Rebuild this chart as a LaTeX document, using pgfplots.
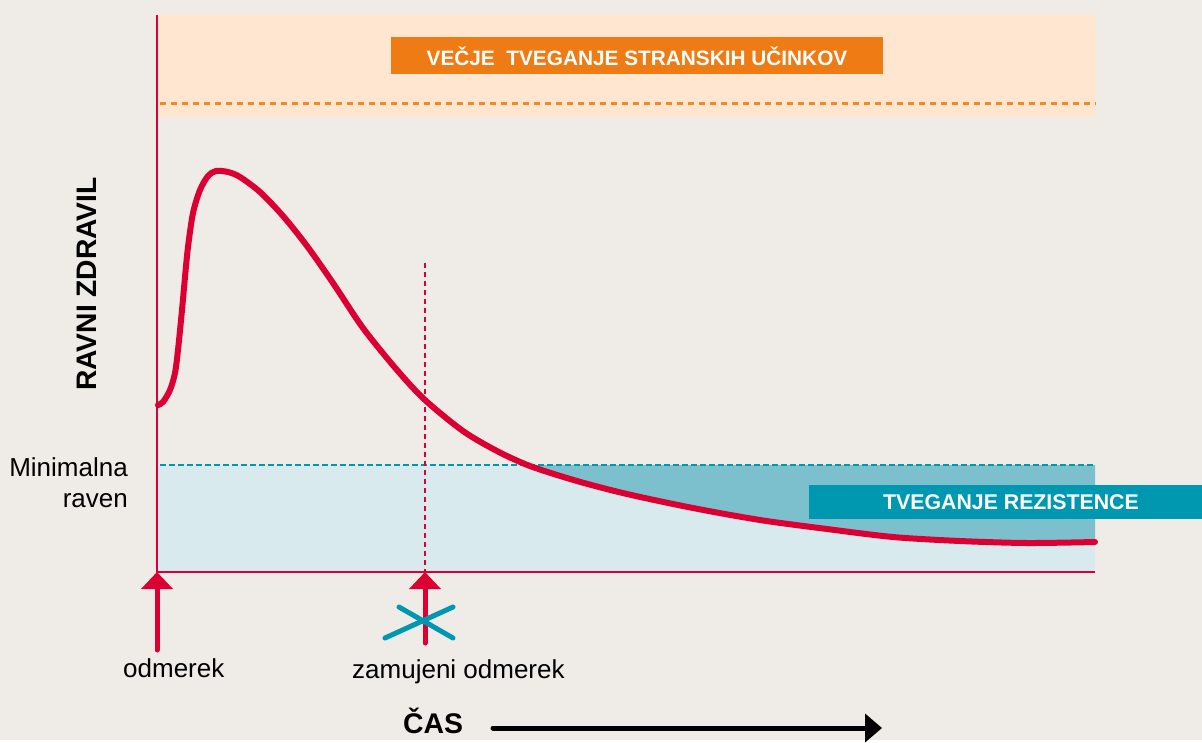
\documentclass[border=0pt]{standalone}
\usepackage{fontspec}
\setmainfont{Liberation Sans}
\usepackage{pgfplots}
\pgfplotsset{compat=1.18}
\usetikzlibrary{arrows.meta}
\definecolor{bg}{HTML}{EFECE7}
\definecolor{peach}{HTML}{FEE6D1}
\definecolor{orng}{HTML}{EE7B13}
\definecolor{dorng}{HTML}{F08A22}
\definecolor{lteal}{HTML}{D8EAEE}
\definecolor{mteal}{HTML}{7BC0CC}
\definecolor{dteal}{HTML}{0098B0}
\definecolor{rd}{HTML}{DC0032}
\begin{document}
\begin{tikzpicture}
\begin{axis}[
  scale only axis, width=1202pt, height=740pt,
  xmin=0, xmax=1202, ymin=0, ymax=740, y dir=reverse,
  hide axis, clip=false,
]
\fill[bg] (axis cs:0,0) rectangle (axis cs:1202,740);
% upper band
\fill[peach] (axis cs:157,15) rectangle (axis cs:1096,117);
\draw[dorng, line width=3pt, dash pattern=on 6pt off 5pt] (axis cs:160,103) -- (axis cs:1096,103);
\fill[orng] (axis cs:391,37) rectangle (axis cs:883,74);
\node[text=white, font=\fontsize{20.8pt}{24pt}\selectfont\bfseries, inner sep=0pt] at (axis cs:637,56) {VEČJE\ \ TVEGANJE STRANSKIH UČINKOV};
% lower band
\fill[lteal] (axis cs:157,465) rectangle (axis cs:1095,572);
\addplot[fill=mteal, draw=none] coordinates {
(527,465) (530,466) (577,481) (627,494) (693,508) (760,520) (827,529) (893,537) (960,541) (1027,543) (1095,542) (1095,465)};
\draw[dteal, line width=2.5pt, dash pattern=on 6pt off 3pt] (axis cs:160,465) -- (axis cs:1095,465);
\fill[dteal] (axis cs:809,485) rectangle (axis cs:1202,519);
\node[text=white, font=\fontsize{21.3pt}{24pt}\selectfont\bfseries, inner sep=0pt] at (axis cs:1011,502) {TVEGANJE REZISTENCE};
% missed-dose line
\draw[rd, line width=1.5pt, dash pattern=on 5pt off 4pt] (axis cs:425,263) -- (axis cs:425,572);
% axes
\draw[rd, line width=2.5pt] (axis cs:157,15) -- (axis cs:157,572) -- (axis cs:1095,572);
% concentration curve
\addplot[rd, line width=6pt, smooth, line cap=round, line join=round] coordinates {
(158,405) (163,402) (170,390) (175,373) (178,350) (182,310) (185,277) (188,247) (193,213) (200,190) (208,176) (216,171) (228,172) (240,177) (260,192) (283,216) (307,246) (333,283) (363,328) (397,370) (425,400) (463,431) (497,451) (530,466) (577,481) (627,494) (693,508) (760,520) (827,529) (893,537) (960,541) (1027,543) (1095,542)};
% dose arrows
\draw[rd, line width=5pt, line cap=round, -{Triangle[width=31pt,length=17pt]}] (axis cs:157,650) -- (axis cs:157,572);
\draw[rd, line width=5pt, line cap=round, -{Triangle[width=31pt,length=17pt]}] (axis cs:425,643) -- (axis cs:425,572);
\draw[dteal, line width=5pt, line cap=round] (axis cs:385,638) -- (axis cs:453,607);
\draw[dteal, line width=5pt, line cap=round] (axis cs:399,607) -- (axis cs:453,638);
% labels
\node[anchor=base east, inner sep=0pt, font=\fontsize{26pt}{31pt}\selectfont] at (axis cs:128,476) {Minimalna};
\node[anchor=base east, inner sep=0pt, font=\fontsize{26pt}{31pt}\selectfont] at (axis cs:128,507) {raven};
\node[anchor=base west, inner sep=0pt, font=\fontsize{26pt}{31pt}\selectfont] at (axis cs:123,677) {odmerek};
\node[anchor=base west, inner sep=0pt, font=\fontsize{26pt}{31pt}\selectfont] at (axis cs:352,678) {zamujeni odmerek};
\node[anchor=base west, inner sep=0pt, font=\fontsize{28.4pt}{32pt}\selectfont\bfseries] at (axis cs:403,733) {ČAS};
\draw[black, line width=5pt, line cap=round, -{Triangle[width=28pt,length=17pt]}] (axis cs:493,728) -- (axis cs:882,728);
\node[rotate=90, inner sep=0pt, font=\fontsize{28.2pt}{32pt}\selectfont\bfseries] at (axis cs:87,284) {RAVNI ZDRAVIL};
\end{axis}
\end{tikzpicture}
\end{document}
